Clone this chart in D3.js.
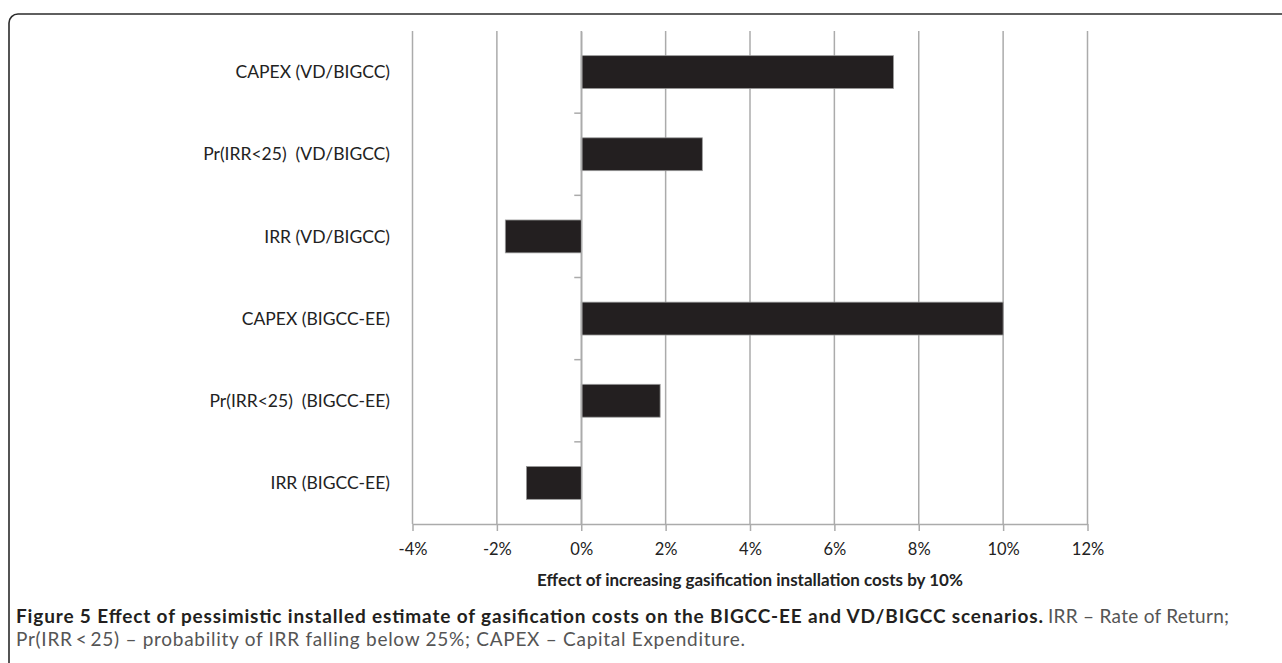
<!DOCTYPE html>
<html>
<head>
<meta charset="utf-8">
<script src="https://cdn.jsdelivr.net/npm/d3@7"></script>
<style>
  html, body { margin: 0; padding: 0; background: #fff; }
  svg { display: block; }
</style>
</head>
<body>
<svg id="chart" width="1282" height="663"></svg>
<script>
// ---- data ----
const categories = [
  "CAPEX (VD/BIGCC)",
  "Pr(IRR<25)  (VD/BIGCC)",
  "IRR (VD/BIGCC)",
  "CAPEX (BIGCC-EE)",
  "Pr(IRR<25)  (BIGCC-EE)",
  "IRR (BIGCC-EE)"
];
const values = [7.4, 2.87, -1.8, 10.0, 1.87, -1.3];
const xTicks = [-4, -2, 0, 2, 4, 6, 8, 10, 12];
const xTitle = "Effect of increasing gasification installation costs by 10%";
const captionBold = "Figure 5 Effect of pessimistic installed estimate of gasification costs on the BIGCC-EE and VD/BIGCC scenarios.";
const captionRest1 = "IRR \u2013 Rate of Return;";
const captionLine2 = "Pr(IRR\u2009<\u200925) \u2013 probability of IRR falling below 25%; CAPEX \u2013 Capital Expenditure.";

(function () {
const svg = d3.select("#chart");
const chartFont = "Lato, 'Open Sans', sans-serif";
const capFont = "Lato, 'Open Sans', sans-serif";

// frame
svg.append("rect")
  .attr("x", 9).attr("y", 14)
  .attr("width", 1400).attr("height", 1000)
  .attr("rx", 9).attr("ry", 9)
  .attr("fill", "none").attr("stroke", "#2b2b2b").attr("stroke-width", 1.6);

const pLeft = 412.5, pRight = 1087.5, pTop = 31, pBottom = 524;

const x = d3.scaleLinear().domain([-4, 12]).range([pLeft, pRight]);
const y = d3.scaleBand().domain(categories).range([pTop, pBottom]).paddingInner(0.6).paddingOuter(0.3);
const yb = d3.scaleBand().domain(categories).range([pTop, pBottom]);

// gridlines
svg.append("g").selectAll("line").data(xTicks).join("line")
  .attr("x1", d => x(d)).attr("x2", d => x(d))
  .attr("y1", pTop).attr("y2", pBottom)
  .attr("stroke", "#ababab").attr("stroke-width", 1.5);

// x axis
const xAxis = svg.append("g").attr("transform", `translate(0,${pBottom})`)
  .call(d3.axisBottom(x).tickValues(xTicks).tickFormat(d => d + "%").tickSize(7).tickPadding(12).tickSizeOuter(0));
xAxis.select(".domain").attr("stroke", "#ababab").attr("stroke-width", 1.5);
xAxis.selectAll(".tick line").attr("stroke", "#ababab").attr("stroke-width", 1.5);
xAxis.selectAll(".tick text").attr("font-family", chartFont).attr("font-size", 16.5).attr("fill", "#222");

// bars
svg.append("g").selectAll("rect").data(values).join("rect")
  .attr("x", (d) => x(Math.min(0, d)))
  .attr("width", d => Math.abs(x(d) - x(0)))
  .attr("y", (d, i) => y(categories[i]))
  .attr("height", y.bandwidth())
  .attr("fill", "#231f20")
  .attr("stroke", "#9a9a9a").attr("stroke-width", 0.8);

// y axis line at zero (category axis)
const yAxis = svg.append("g").attr("transform", `translate(${x(0)},0)`)
  .call(d3.axisLeft(yb).tickSize(0).tickFormat(""));
yAxis.select(".domain").attr("stroke", "#ababab").attr("stroke-width", 1.5);
const bounds = categories.slice(1).map(c => yb(c));
svg.append("g").selectAll("line").data(bounds).join("line")
  .attr("x1", x(0) - 7).attr("x2", x(0))
  .attr("y1", d => d).attr("y2", d => d)
  .attr("stroke", "#ababab").attr("stroke-width", 1.5);

// category labels
svg.append("g").selectAll("text").data(categories).join("text")
  .attr("x", 390)
  .attr("y", d => yb(d) + yb.bandwidth() / 2)
  .attr("dy", "0.35em")
  .attr("text-anchor", "end")
  .attr("font-family", chartFont).attr("font-size", 17.5).attr("fill", "#222")
  .style("white-space", "pre")
  .text(d => d);

// x title
svg.append("text")
  .attr("x", (pLeft + pRight) / 2).attr("y", 586)
  .attr("text-anchor", "middle")
  .attr("font-family", chartFont).attr("font-size", 17).attr("font-weight", "bold").attr("fill", "#222")
  .text(xTitle);

// caption
svg.append("text").attr("x", 16).attr("y", 623)
  .attr("font-family", capFont).attr("font-size", 19).attr("font-weight", "bold").attr("fill", "#231f20")
  .attr("textLength", 1027).attr("lengthAdjust", "spacing")
  .text(captionBold);
svg.append("text").attr("x", 1048).attr("y", 623)
  .attr("font-family", capFont).attr("font-size", 19).attr("fill", "#555")
  .attr("textLength", 181).attr("lengthAdjust", "spacing")
  .text(captionRest1);
svg.append("text").attr("x", 16).attr("y", 646)
  .attr("font-family", capFont).attr("font-size", 19).attr("fill", "#555")
  .attr("textLength", 729).attr("lengthAdjust", "spacing")
  .text(captionLine2);
})();
</script>
</body>
</html>
